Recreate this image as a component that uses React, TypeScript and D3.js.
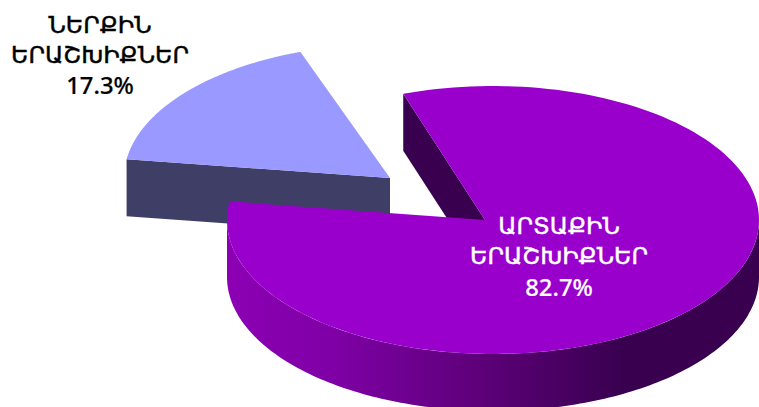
import React from "react";
import * as d3 from "d3";

const categories = ["ՆԵՐՔԻՆ ԵՐԱՇԽԻՔՆԵՐ", "ԱՐՏԱՔԻՆ ԵՐԱՇԽԻՔՆԵՐ"];
const labelFirstLines = ["ՆԵՐՔԻՆ", "ԱՐՏԱՔԻՆ"];
const labelSecondLines = ["ԵՐԱՇԽԻՔՆԵՐ", "ԵՐԱՇԽԻՔՆԵՐ"];
const values = [17.3, 82.7];
const valueLabels = ["17.3%", "82.7%"];
const topColors = ["#9999ff", "#9900cc"];

const W = 759, H = 407;
const RX = 266, RY = 134, DEPTH = 57;
const startDeg = -172;

export default function App() {
  const pie = d3.pie<number>().sort(null).startAngle((startDeg * Math.PI) / 180).endAngle(((startDeg + 360) * Math.PI) / 180);
  const arcs = pie(values);
  const line = d3.line<[number, number]>();

  const slices = [
    { cx: 390, cy: 178, ax: 390, ay: 178 },
    { cx: 493, cy: 220, ax: 485, ay: 220 },
  ];
  const rim = (i: number, a0: number, a1: number, dy = 0): [number, number][] => {
    const s = slices[i];
    return d3.range(0, 161).map((k) => {
      const t = a0 + ((a1 - a0) * k) / 160;
      return [s.cx + RX * Math.cos(t), s.cy + RY * Math.sin(t) + dy] as [number, number];
    });
  };

  const a = arcs[0], b = arcs[1];
  const sA = slices[0], sB = slices[1];
  const aRim = rim(0, a.startAngle, a.endAngle);
  const bRim = rim(1, b.startAngle, b.endAngle);
  const aTop = [[sA.ax, sA.ay] as [number, number], ...aRim];
  const bTop = [[sB.ax, sB.ay] as [number, number], ...bRim];

  const aStart = aRim[0];
  const aFace: [number, number][] = [aStart, [sA.ax, sA.ay], [sA.ax, sA.ay + DEPTH], [aStart[0], aStart[1] + DEPTH]];
  const bStart = bRim[0];
  const bFace: [number, number][] = [bStart, [sB.ax, sB.ay], [sB.ax, sB.ay + DEPTH], [bStart[0], bStart[1] + DEPTH]];
  const wallTop = rim(1, 0, Math.PI);
  const wallBottom = rim(1, 0, Math.PI, DEPTH).reverse();
  const wall = [...wallTop, ...wallBottom];

  const labels = [
    { x: 100, ys: [33, 63, 94], fill: "#000000" },
    { x: 559, ys: [234, 264, 296], fill: "#ffffff" },
  ];

  return (
    <svg width={W} height={H} viewBox={`0 0 ${W} ${H}`} style={{ position: "absolute", left: 0, top: 0, background: "#fff" }}>
      <defs>
        <linearGradient id="wall" gradientUnits="userSpaceOnUse" x1={227} x2={759} y1={0} y2={0}>
          <stop offset="0" stopColor="#8c00b4" />
          <stop offset="0.2" stopColor="#7f00a6" />
          <stop offset="0.5" stopColor="#5a0075" />
          <stop offset="0.75" stopColor="#38004f" />
          <stop offset="1" stopColor="#38004f" />
        </linearGradient>
      </defs>
      <path d={line(aFace)! + "Z"} fill="#3e3e66" />
      <path d={line(aTop)! + "Z"} fill={topColors[0]} />
      <path d={line(bFace)! + "Z"} fill="#38004f" />
      <path d={line(wall)! + "Z"} fill="url(#wall)" />
      <path d={line(bTop)! + "Z"} fill={topColors[1]} />
      {categories.map((c, i) => (
        <text
          key={c}
          fill={labels[i].fill}
          stroke={labels[i].fill}
          strokeWidth={0.45}
          textAnchor="middle"
          fontFamily="'DejaVu Sans', sans-serif"
          fontSize={23.8}
        >
          <tspan x={labels[i].x} y={labels[i].ys[0]}>{labelFirstLines[i]}</tspan>
          <tspan x={labels[i].x} y={labels[i].ys[1]}>{labelSecondLines[i]}</tspan>
          <tspan x={labels[i].x} y={labels[i].ys[2]} fontFamily="'Noto Sans', sans-serif" fontWeight={500} strokeWidth={0.2}>{valueLabels[i]}</tspan>
        </text>
      ))}
    </svg>
  );
}
